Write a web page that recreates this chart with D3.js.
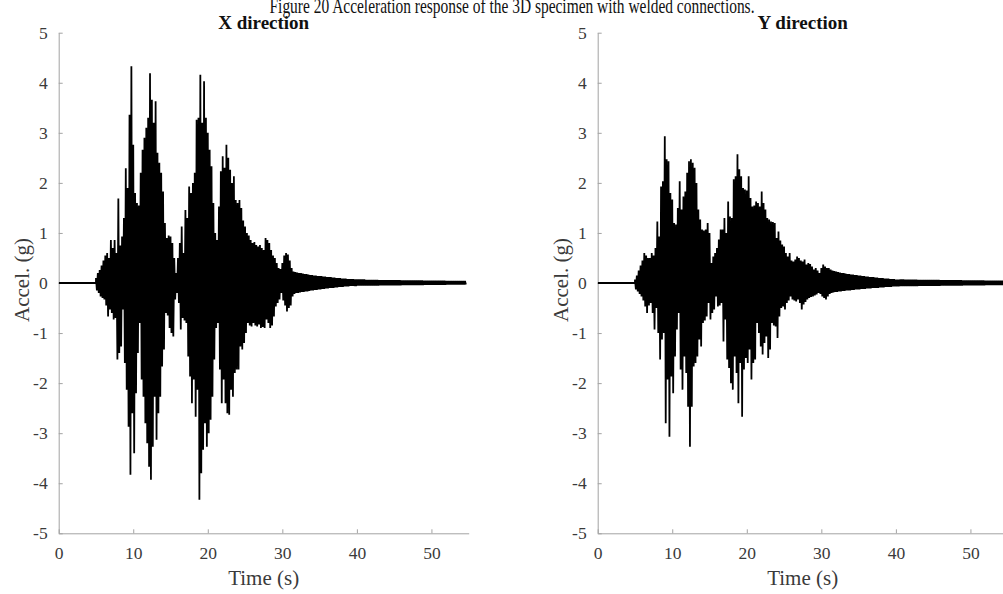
<!DOCTYPE html>
<html>
<head>
<meta charset="utf-8">
<script src="https://cdn.jsdelivr.net/npm/d3@7"></script>
<style>
  body { margin: 0; background: #fff; }
  svg text { font-family: "Liberation Serif", "Times New Roman", serif; }
</style>
</head>
<body>
<div id="chart"></div>
<script>
// axis settings
const timeDomain = [0, 55];
const accelDomain = [-5, 5];
const timeTicks = [0, 10, 20, 30, 40, 50];
const accelTicks = [-5, -4, -3, -2, -1, 0, 1, 2, 3, 4, 5];

// record sampled every 0.25 s from 5 s on; before that the signal sits at 0
const sampleStart = 5;
const sampleStep = 0.25;

// X direction: peak (+) and trough (-) per sample
const xPos = [
  0.1, 0.2, 0.26, 0.35, 0.45, 0.55, 0.6, 0.5, 0.86, 0.7,
  0.86, 0.6, 1.69, 0.75, 0.93, 1.3, 2.29, 1.9, 3.36, 4.33,
  2.76, 1.8, 1.6, 1.55, 2.2, 2.66, 2.9, 3.1, 3.3, 4.19,
  3.66, 3.2, 3.63, 2.6, 2.4, 2.2, 1.83, 1.2, 0.9, 0.95,
  0.93, 0.8, 0.5, 0.2, 0.5, 0.8, 1.13, 0.6, 1.46, 1.3,
  1.93, 1.8, 2.0, 2.2, 3.26, 3.3, 4.16, 3.2, 4.03, 3.3,
  3.0, 2.66, 2.33, 1.6, 1.0, 0.86, 1.53, 2.23, 2.53, 2.3,
  2.76, 2.5, 2.26, 2.0, 2.13, 1.66, 1.6, 1.66, 1.5, 1.25,
  1.13, 1.0, 0.95, 0.86, 0.8, 0.82, 0.76, 0.73, 0.76, 0.7,
  0.66, 0.9, 0.86, 0.8, 0.66, 0.55, 0.5, 0.4, 0.3, 0.28,
  0.4, 0.55, 0.6, 0.57, 0.45, 0.3, 0.23, 0.22, 0.21, 0.2,
  0.2, 0.19, 0.18, 0.18, 0.17, 0.16, 0.16, 0.15, 0.15, 0.14,
  0.14, 0.14, 0.13, 0.13, 0.12, 0.12, 0.12, 0.11, 0.11, 0.1,
  0.1, 0.1, 0.09, 0.09, 0.09, 0.08, 0.08, 0.08, 0.08, 0.07,
  0.07, 0.07, 0.07, 0.07, 0.07, 0.06, 0.06, 0.06, 0.06, 0.06,
  0.06, 0.06, 0.055, 0.055, 0.055, 0.055, 0.055, 0.055, 0.055, 0.055,
  0.055, 0.055, 0.055, 0.055, 0.05, 0.05, 0.05, 0.05, 0.05, 0.05,
  0.05, 0.05, 0.05, 0.05, 0.05, 0.05, 0.045, 0.045, 0.045, 0.045,
  0.045, 0.045, 0.045, 0.045, 0.045, 0.045, 0.045, 0.045, 0.04, 0.04,
  0.04, 0.04, 0.04, 0.04, 0.04, 0.04, 0.04, 0.04, 0.04
];
const xNeg = [
  -0.15, -0.2, -0.27, -0.3, -0.33, -0.45, -0.67, -0.53, -0.6, -0.73,
  -0.7, -1.53, -1.4, -1.27, -0.53, -1.6, -2.13, -2.87, -3.83, -2.6,
  -3.4, -2.2, -1.4, -0.8, -1.93, -2.27, -2.8, -3.2, -3.67, -3.93,
  -3.27, -2.27, -3.13, -2.6, -2.27, -1.67, -1.33, -0.6, -0.65, -0.9,
  -1.0, -1.07, -0.33, -0.2, -0.4, -0.93, -0.7, -0.75, -0.8, -1.47,
  -1.87, -2.4, -1.93, -2.67, -2.13, -4.33, -3.8, -3.33, -2.8, -3.27,
  -3.0, -2.73, -2.27, -1.53, -0.9, -0.8, -1.73, -2.4, -1.93, -2.4,
  -2.6, -2.63, -2.13, -2.27, -1.8, -1.73, -1.73, -1.27, -1.33, -1.2,
  -1.0, -0.8, -0.85, -0.87, -0.8, -0.85, -0.87, -0.83, -0.9, -0.88,
  -0.9, -0.73, -0.8, -0.9, -0.85, -0.67, -0.47, -0.4, -0.33, -0.2,
  -0.35, -0.45, -0.57, -0.5, -0.45, -0.27, -0.22, -0.2, -0.2, -0.19,
  -0.18, -0.18, -0.17, -0.17, -0.16, -0.15, -0.15, -0.14, -0.14, -0.13,
  -0.13, -0.12, -0.12, -0.11, -0.11, -0.1, -0.1, -0.1, -0.09, -0.09,
  -0.08, -0.08, -0.08, -0.07, -0.07, -0.07, -0.06, -0.06, -0.06, -0.06,
  -0.05, -0.05, -0.05, -0.05, -0.05, -0.05, -0.05, -0.05, -0.05, -0.05,
  -0.05, -0.05, -0.045, -0.045, -0.045, -0.045, -0.045, -0.045, -0.045, -0.045,
  -0.045, -0.045, -0.045, -0.045, -0.04, -0.04, -0.04, -0.04, -0.04, -0.04,
  -0.04, -0.04, -0.04, -0.04, -0.04, -0.04, -0.035, -0.035, -0.035, -0.035,
  -0.035, -0.035, -0.035, -0.035, -0.035, -0.035, -0.035, -0.035, -0.03, -0.03,
  -0.03, -0.03, -0.03, -0.03, -0.03, -0.03, -0.03, -0.03, -0.03
];

// Y direction
const yPos = [
  0.07, 0.15, 0.25, 0.35, 0.45, 0.6, 0.55, 0.5, 0.5, 0.6,
  0.55, 0.7, 1.23, 0.93, 1.93, 2.03, 2.93, 2.47, 2.43, 1.8,
  1.67, 1.2, 1.17, 1.5, 2.03, 1.47, 1.73, 1.83, 2.2, 2.43,
  2.47, 2.4, 2.3, 2.0, 1.47, 1.27, 1.07, 1.05, 1.07, 1.2,
  1.0, 0.4, 0.53, 0.6, 0.7, 0.87, 1.07, 1.07, 1.3, 1.0,
  1.63, 1.33, 1.3, 2.07, 2.13, 2.57, 2.27, 2.13, 1.9, 1.87,
  1.85, 2.13, 1.7, 1.53, 1.55, 1.63, 1.6, 1.53, 1.83, 1.6,
  1.47, 1.3, 1.27, 1.23, 1.22, 1.2, 0.9, 1.03, 0.85, 0.77,
  0.73, 0.6, 0.53, 0.6, 0.45, 0.43, 0.47, 0.53, 0.5, 0.45,
  0.43, 0.47, 0.37, 0.4, 0.38, 0.33, 0.27, 0.3, 0.25, 0.2,
  0.3, 0.37, 0.33, 0.3, 0.3, 0.27, 0.25, 0.24, 0.23, 0.22,
  0.21, 0.2, 0.2, 0.19, 0.18, 0.18, 0.17, 0.17, 0.16, 0.16,
  0.15, 0.15, 0.14, 0.14, 0.13, 0.13, 0.12, 0.12, 0.12, 0.11,
  0.11, 0.1, 0.1, 0.1, 0.09, 0.09, 0.09, 0.08, 0.08, 0.08,
  0.07, 0.07, 0.07, 0.07, 0.07, 0.065, 0.065, 0.065, 0.065, 0.065,
  0.065, 0.065, 0.06, 0.06, 0.06, 0.06, 0.06, 0.06, 0.06, 0.06,
  0.06, 0.06, 0.06, 0.06, 0.055, 0.055, 0.055, 0.055, 0.055, 0.055,
  0.055, 0.055, 0.055, 0.055, 0.055, 0.055, 0.05, 0.05, 0.05, 0.05,
  0.05, 0.05, 0.05, 0.05, 0.05, 0.05, 0.05, 0.05, 0.045, 0.045,
  0.045, 0.045, 0.045, 0.045, 0.045, 0.045, 0.045, 0.045, 0.045
];
const yNeg = [
  -0.13, -0.17, -0.22, -0.27, -0.35, -0.47, -0.6, -0.45, -0.4, -0.6,
  -0.93, -0.5, -1.0, -1.53, -1.13, -1.0, -2.8, -1.93, -3.07, -1.87,
  -2.2, -1.47, -0.93, -0.6, -1.73, -2.13, -1.47, -1.8, -2.47, -3.27,
  -2.47, -1.67, -1.6, -1.47, -1.13, -1.27, -0.8, -0.75, -0.67, -0.4,
  -0.73, -0.6, -0.53, -0.27, -0.47, -0.45, -0.4, -1.17, -0.73, -1.53,
  -1.7, -2.0, -2.13, -1.47, -1.8, -2.4, -1.6, -2.67, -1.73, -1.5,
  -1.6, -1.33, -1.93, -1.6, -1.53, -0.8, -1.0, -1.27, -1.43, -1.2,
  -1.07, -1.5, -1.33, -0.8, -0.85, -0.87, -1.1, -0.67, -0.5, -0.47,
  -0.53, -0.4, -0.35, -0.27, -0.33, -0.35, -0.37, -0.33, -0.4, -0.53,
  -0.43, -0.38, -0.33, -0.3, -0.28, -0.27, -0.25, -0.23, -0.2, -0.22,
  -0.27, -0.3, -0.33, -0.27, -0.22, -0.2, -0.19, -0.18, -0.18, -0.17,
  -0.17, -0.16, -0.16, -0.15, -0.15, -0.15, -0.14, -0.14, -0.13, -0.13,
  -0.13, -0.12, -0.12, -0.12, -0.11, -0.11, -0.11, -0.1, -0.1, -0.1,
  -0.1, -0.09, -0.09, -0.09, -0.08, -0.08, -0.08, -0.08, -0.07, -0.07,
  -0.07, -0.07, -0.06, -0.06, -0.06, -0.06, -0.06, -0.06, -0.06, -0.06,
  -0.06, -0.06, -0.055, -0.055, -0.055, -0.055, -0.055, -0.055, -0.055, -0.055,
  -0.055, -0.055, -0.055, -0.055, -0.05, -0.05, -0.05, -0.05, -0.05, -0.05,
  -0.05, -0.05, -0.05, -0.05, -0.05, -0.05, -0.045, -0.045, -0.045, -0.045,
  -0.045, -0.045, -0.045, -0.045, -0.045, -0.045, -0.045, -0.045, -0.04, -0.04,
  -0.04, -0.04, -0.04, -0.04, -0.04, -0.04, -0.04, -0.04, -0.04
];

const panels = [
  { title: "X direction", pos: xPos, neg: xNeg },
  { title: "Y direction", pos: yPos, neg: yNeg }
];

const width = 1003, height = 594;
const plotLeft = [58.7, 597.7];
const plotWidth = 410;
const plotTop = 32.7, plotBottom = 533.3;
const axisColor = "#a3a3a3", labelColor = "#3a3a3a";

const svg = d3.select("#chart").append("svg")
    .attr("width", width)
    .attr("height", height);

svg.append("rect").attr("width", width).attr("height", height).style("fill", "#fff");

// caption, cut off at the top of the picture
svg.append("text")
    .attr("x", 512)
    .attr("y", 13)
    .attr("text-anchor", "middle")
    .attr("textLength", 485)
    .attr("lengthAdjust", "spacingAndGlyphs")
    .style("font-size", "22px")
    .style("fill", "#111")
    .text("Figure 20 Acceleration response of the 3D specimen with welded connections.");

panels.forEach((p, k) => {
    const x = d3.scaleLinear().domain(timeDomain).range([plotLeft[k], plotLeft[k] + plotWidth]);
    const y = d3.scaleLinear().domain(accelDomain).range([plotBottom, plotTop]);
    const g = svg.append("g");

    // build the trace: flat until the record starts, then peak / trough per sample
    const pts = [[0, 0], [sampleStart, 0]];
    p.pos.forEach((v, i) => {
        const t = sampleStart + i * sampleStep;
        pts.push([t, v]);
        pts.push([t + sampleStep / 2, p.neg[i]]);
    });

    g.append("clipPath").attr("id", "clip" + k)
        .append("rect")
        .attr("x", x(0)).attr("y", 0)
        .attr("width", x(55) - x(0)).attr("height", height);

    const line = d3.line().x(d => x(d[0])).y(d => y(d[1]));

    const xAxis = g.append("g")
        .attr("transform", `translate(0,${plotBottom})`)
        .call(d3.axisBottom(x).tickValues(timeTicks).tickSize(-4).tickSizeOuter(0).tickPadding(13));
    const yAxis = g.append("g")
        .attr("transform", `translate(${plotLeft[k]},0)`)
        .call(d3.axisLeft(y).tickValues(accelTicks).tickSize(-4).tickSizeOuter(0).tickPadding(11).tickFormat(d3.format("d")));

    [xAxis, yAxis].forEach(a => {
        a.selectAll("path, line").style("stroke", axisColor).style("stroke-width", 1);
        a.selectAll("text").style("font-size", "17.5px").style("fill", labelColor)
            .style("font-family", '"Liberation Serif", "Times New Roman", serif');
    });
    yAxis.selectAll("text").text(d => d < 0 ? "-" + Math.abs(d) : d);

    g.append("path")
        .datum(pts)
        .attr("clip-path", `url(#clip${k})`)
        .attr("d", line)
        .style("fill", "none")
        .style("stroke", "#000")
        .style("stroke-width", 1.8)
        .style("stroke-linejoin", "bevel");

    g.append("text")
        .attr("x", (x(0) + x(55)) / 2)
        .attr("y", 29)
        .attr("text-anchor", "middle")
        .style("font-size", "19px")
        .style("font-weight", "bold")
        .style("fill", "#111")
        .text(p.title);

    g.append("text")
        .attr("x", (x(0) + x(55)) / 2)
        .attr("y", 585)
        .attr("text-anchor", "middle")
        .style("font-size", "21px")
        .style("fill", labelColor)
        .text("Time (s)");

    g.append("text")
        .attr("transform", `translate(${plotLeft[k] - 29.5},${y(0) - 3}) rotate(-90)`)
        .attr("text-anchor", "middle")
        .style("font-size", "21px")
        .style("fill", labelColor)
        .text("Accel. (g)");
});
</script>
</body>
</html>
